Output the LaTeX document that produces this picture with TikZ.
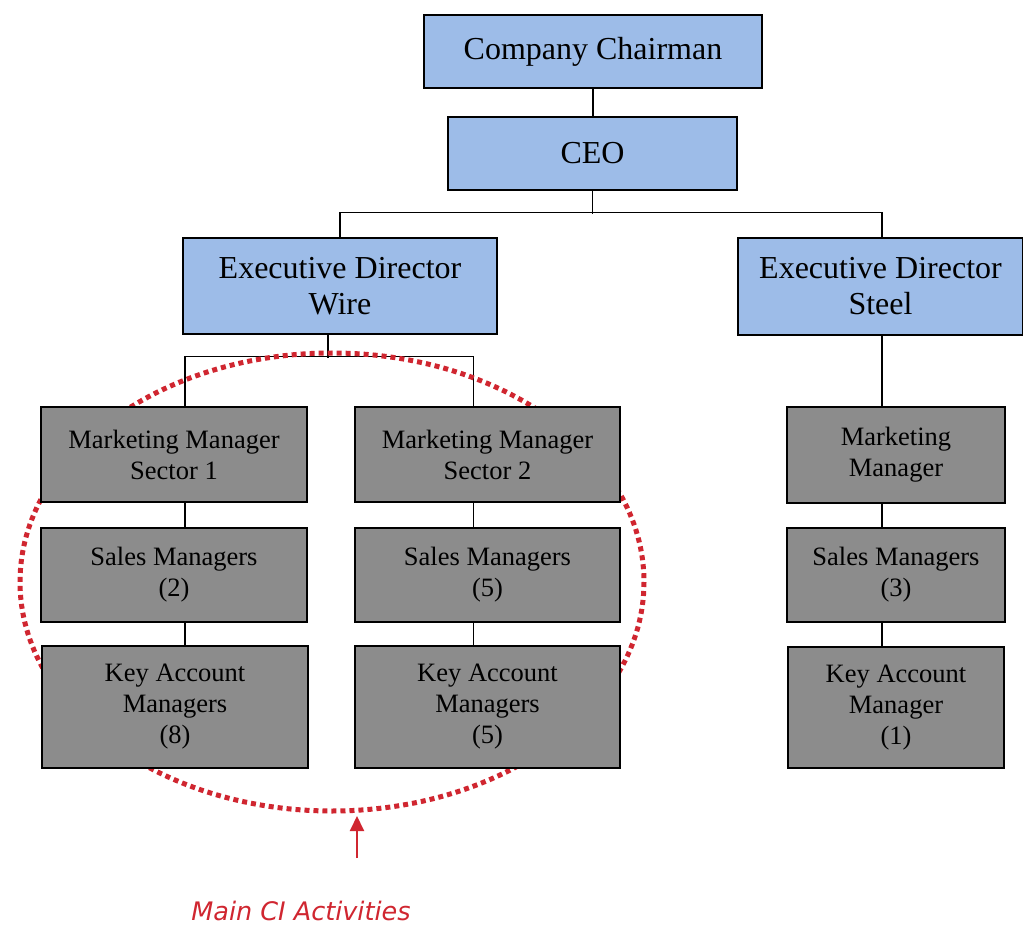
\documentclass[tikz,border=0pt]{standalone}
\usepackage{fontspec}
\setmainfont{Liberation Serif}
\newfontfamily\cifont{DejaVu Sans}
\usetikzlibrary{arrows.meta}
\definecolor{boxblue}{RGB}{157,188,232}
\definecolor{boxgrey}{RGB}{140,140,140}
\definecolor{cired}{RGB}{208,38,48}
\pgfdeclarelayer{bg}
\pgfsetlayers{bg,main}
\begin{document}
\begin{tikzpicture}[x=1pt,y=-1pt,
 bluebox/.style={draw=black,line width=1.4pt,fill=boxblue,inner sep=0pt,align=center,font=\fontsize{32}{36}\selectfont},
 greybox/.style={draw=black,line width=1.4pt,fill=boxgrey,inner sep=0pt,align=center,font=\fontsize{26.5}{31}\selectfont},
 link/.style={draw=black,line width=1.3pt}]
\useasboundingbox (0,0) rectangle (1023,925);
\draw[cired,line width=5pt,dash pattern=on 5pt off 4pt] (332,582) ellipse [x radius=312,y radius=229];
% blue boxes
\node[bluebox,minimum width=338,minimum height=73] (chair) at (593,51.5) {Company Chairman};
\node[bluebox,minimum width=289,minimum height=73] (ceo) at (592.5,153.5) {CEO};
\node[bluebox,minimum width=314,minimum height=96] (wire) at (340,286) {Executive Director\\Wire};
\node[bluebox,minimum width=285,minimum height=97] (steel) at (880.5,286.5) {Executive Director\\Steel};
% grey boxes
\node[greybox,minimum width=266,minimum height=95] (mm1) at (174,454.5) {Marketing Manager\\Sector 1};
\node[greybox,minimum width=265,minimum height=95] (mm2) at (487.5,454.5) {Marketing Manager\\Sector 2};
\node[greybox,minimum width=266,minimum height=94] (sm1) at (174,575) {Sales Managers\\(2)};
\node[greybox,minimum width=265,minimum height=94] (sm2) at (487.5,575) {Sales Managers\\(5)};
\node[greybox,minimum width=266,minimum height=122] (kam1) at (175,707) {Key Account\\Managers\\(8)};
\node[greybox,minimum width=265,minimum height=122] (kam2) at (487.5,707) {Key Account\\Managers\\(5)};
\node[greybox,minimum width=218,minimum height=96] (mm3) at (896,455) {Marketing\\Manager};
\node[greybox,minimum width=218,minimum height=94] (sm3) at (896,575) {Sales Managers\\(3)};
\node[greybox,minimum width=216,minimum height=121] (kam3) at (896,707.5) {Key Account\\Manager\\(1)};
% connectors
\begin{pgfonlayer}{bg}
\fill[white] (0,0) rectangle (1023,925);
\draw[link] (chair.south) -- (chair.south |- ceo.north);
\draw[link] (ceo.south) -- ++(0,23);
\draw[link] (wire.north) -- ++(0,-25) -| ([xshift=1.5pt]steel.north);
\draw[link] ([xshift=-12pt]wire.south) -- ++(0,23);
\draw[link] ([xshift=11pt]mm1.north) -- ++(0,-50) -| ([xshift=-14pt]mm2.north);
\draw[link] ([xshift=11pt]mm1.south) -- ([xshift=11pt]mm1.south |- sm1.north);
\draw[link] ([xshift=11pt]sm1.south) -- ([xshift=11pt]sm1.south |- kam1.north);
\draw[link] ([xshift=-14pt]mm2.south) -- ([xshift=-14pt]mm2.south |- sm2.north);
\draw[link] ([xshift=-14pt]sm2.south) -- ([xshift=-14pt]sm2.south |- kam2.north);
\draw[link] ([xshift=1.5pt]steel.south) -- ([xshift=1.5pt]steel.south |- mm3.north);
\draw[link] ([xshift=-14pt]mm3.south) -- ([xshift=-14pt]mm3.south |- sm3.north);
\draw[link] ([xshift=-14pt]sm3.south) -- ([xshift=-14pt]sm3.south |- kam3.north);
\end{pgfonlayer}
% label and arrow
\node[text=cired,font=\cifont\itshape\fontsize{25.5}{30}\selectfont] (ci) at (301,911) {Main CI Activities};
\coordinate (arrtail) at (357,858);
\coordinate (arrhead) at (357,816);
\draw[cired,line width=2pt,-{Triangle[width=14pt,length=15pt]}] (arrtail) -- (arrhead);
\end{tikzpicture}
\end{document}
